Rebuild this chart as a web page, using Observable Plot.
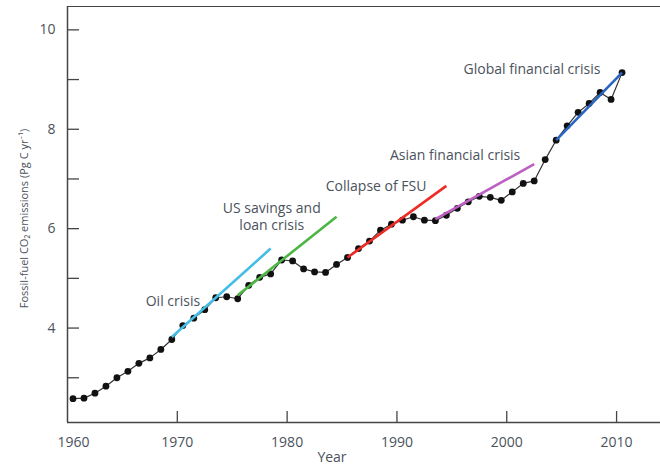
<!DOCTYPE html>
<html>
<head>
<meta charset="utf-8">
<script src="https://cdn.jsdelivr.net/npm/d3@7"></script>
<script src="https://cdn.jsdelivr.net/npm/@observablehq/plot@0.6"></script>
<style>
  html, body { margin: 0; padding: 0; background: #fff; }
  #chart { width: 660px; height: 464px; }
</style>
</head>
<body>
<div id="chart"></div>
<script>
// Global fossil-fuel CO2 emissions, 1960–2010 (Pg C per year)
const years = d3.range(1960, 2011);
const emissions = [
  2.58, 2.59, 2.69, 2.83, 3.00, 3.13, 3.29, 3.40, 3.57, 3.77,
  4.05, 4.20, 4.37, 4.61, 4.63, 4.59, 4.86, 5.02, 5.09, 5.37,
  5.35, 5.19, 5.13, 5.12, 5.28, 5.42, 5.60, 5.75, 5.97, 6.09,
  6.17, 6.24, 6.17, 6.16, 6.27, 6.41, 6.54, 6.65, 6.63, 6.57,
  6.74, 6.91, 6.96, 7.39, 7.78, 8.07, 8.34, 8.52, 8.74, 8.60,
  9.14
];

// Pre-crisis growth trends
const crisisNames   = ["Oil crisis", "US savings and\nloan crisis", "Collapse of FSU", "Asian financial crisis", "Global financial crisis"];
const trendStart    = [1969, 1975, 1985, 1993, 2004];
const trendEnd      = [1978, 1984, 1994, 2002, 2010];
const trendFrom     = [3.82, 4.66, 5.42, 6.19, 7.78];
const trendTo       = [5.60, 6.24, 6.86, 7.30, 9.14];
const trendColors   = ["#45bde6", "#4cb543", "#ee2b25", "#bd5fc3", "#2a64c2"];

// Where each crisis label sits (year, emissions)
const labelYears    = [1969.1, 1978.1, 1987.6, 1994.8, 2001.8];
const labelValues   = [4.56, 6.26, 6.87, 7.48, 9.23];

const xTicks = [1960, 1970, 1980, 1990, 2000, 2010];
const yTicks = [3, 4, 5, 6, 7, 8, 9, 10];
const yLabels = [4, 6, 8, 10];
const xDomain = [1960, 2014];
const yDomain = [2.1, 10.47];

// annual totals are plotted at mid-year
const mid = y => y + 0.5;

const series = years.map((year, i) => ({year, value: emissions[i]}));
const trends = crisisNames.map((name, i) => ({
  name, x1: mid(trendStart[i]), x2: mid(trendEnd[i]), y1: trendFrom[i], y2: trendTo[i], color: trendColors[i]
}));
const labels = crisisNames.map((name, i) => ({name, year: mid(labelYears[i]), value: labelValues[i]}));

const W = 660, H = 464;
const M = {top: 6, right: 0, bottom: 42, left: 67};
const frameW = W - M.left - M.right;
const frameH = H - M.top - M.bottom;
const axisColor = "#454545";
const textColor = "#4b525c";
const font = "'Open Sans', Lato, sans-serif";

const chart = Plot.plot({
  width: W,
  height: H,
  marginTop: M.top,
  marginRight: M.right,
  marginBottom: M.bottom,
  marginLeft: M.left,
  x: {domain: xDomain, axis: null},
  y: {domain: yDomain, axis: null},
  color: {type: "identity"},
  style: {fontFamily: font, fontSize: "14px", color: textColor, background: "#fff", overflow: "visible"},
  marks: [
    // frame lines
    Plot.ruleX([xDomain[0]], {stroke: axisColor, strokeWidth: 1.5}),
    Plot.ruleY([yDomain[0]], {stroke: axisColor, strokeWidth: 1.5}),
    Plot.ruleY([yDomain[1]], {stroke: axisColor, strokeWidth: 1.2}),
    // inward tick marks
    Plot.tickY(yTicks, {y: d => d, insetRight: frameW - 12, stroke: axisColor, strokeWidth: 1.3}),
    Plot.tickX(xTicks.slice(1), {x: d => d, insetTop: frameH - 11, stroke: axisColor, strokeWidth: 1.3}),
    // tick labels
    Plot.axisY({ticks: yLabels, tickSize: 0, tickPadding: 12, label: null, fontSize: 14, fill: textColor}),
    Plot.axisX({ticks: xTicks.slice(1), tickFormat: "d", tickSize: 0, tickPadding: 15, label: null, fontSize: 14, fill: textColor}),
    Plot.axisX({ticks: [1960], tickFormat: "d", tickSize: 0, tickPadding: 15, dx: 6, label: null, fontSize: 14, fill: textColor}),
    // axis titles
    Plot.text(["Fossil-fuel CO\u2082 emissions (Pg C yr\u207B\u00B9)"], {
      frameAnchor: "left", textAnchor: "middle", rotate: -90, dx: -43, dy: 4, fontSize: 11, fill: textColor
    }),
    Plot.text(["Year"], {frameAnchor: "bottom", dx: -32, dy: 39, fontSize: 14, fill: textColor}),
    // emissions series
    Plot.line(series, {x: d => mid(d.year), y: "value", stroke: "#333", strokeWidth: 1.2}),
    Plot.dot(series, {x: d => mid(d.year), y: "value", r: 3.4, fill: "#111", stroke: "none"}),
    // pre-crisis trends
    Plot.link(trends, {x1: "x1", y1: "y1", x2: "x2", y2: "y2", stroke: "color", strokeWidth: 2.6}),
    // crisis labels
    Plot.text(labels, {x: "year", y: "value", text: "name", fill: textColor, fontSize: 14, lineHeight: 1.2})
  ]
});

document.getElementById("chart").appendChild(chart);
</script>
</body>
</html>
